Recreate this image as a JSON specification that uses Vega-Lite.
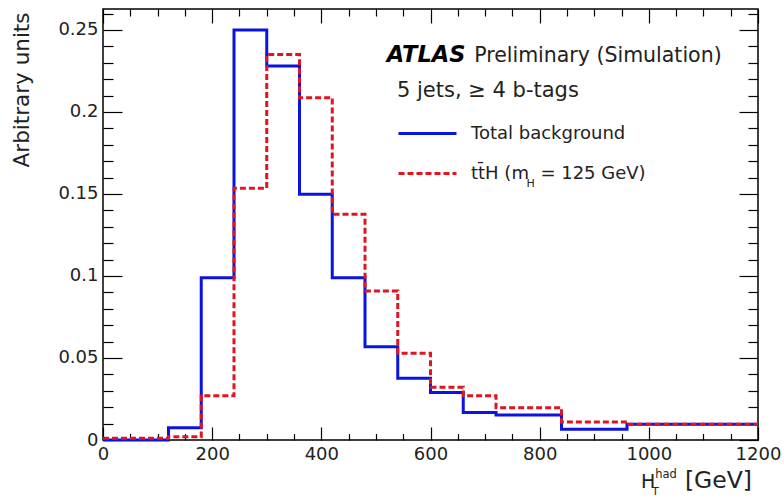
{
"$schema":"https://vega.github.io/schema/vega-lite/v6.json",
"width":655,"height":431,"autosize":"none",
"padding":{"left":103,"top":9,"right":26,"bottom":58},
"background":"white",
"config":{
 "font":"DejaVu Sans",
 "view":{"stroke":"black","strokeWidth":1.5},
 "axis":{"domain":false,"grid":false,"tickColor":"black","tickWidth":1.2,"labelFont":"DejaVu Sans","labelColor":"#222","labelFlush":false,"labelOverlap":false,"labelBound":false},
 "legend":{"orient":"none","legendX":294,"legendY":94,"padding":0,"rowPadding":-1,"title":null,"symbolType":"stroke","symbolSize":3364,"symbolStrokeWidth":3,"labelFontSize":18,"labelColor":"#222","labelOffset":13,"labelLimit":400,"labelFont":"DejaVu Sans"}
},
"datasets":{"hist":[
 {"s":"bkg","x":0,"v":0},
 {"s":"bkg","x":120,"v":0.0075},
 {"s":"bkg","x":180,"v":0.099},
 {"s":"bkg","x":240,"v":0.25},
 {"s":"bkg","x":300,"v":0.228},
 {"s":"bkg","x":360,"v":0.1498},
 {"s":"bkg","x":420,"v":0.099},
 {"s":"bkg","x":480,"v":0.0569},
 {"s":"bkg","x":540,"v":0.0376},
 {"s":"bkg","x":600,"v":0.029},
 {"s":"bkg","x":660,"v":0.0167},
 {"s":"bkg","x":720,"v":0.0152},
 {"s":"bkg","x":840,"v":0.0065},
 {"s":"bkg","x":960,"v":0.0096},
 {"s":"bkg","x":1200,"v":0.0096},
 {"s":"tth","x":0,"v":0.001},
 {"s":"tth","x":120,"v":0.002},
 {"s":"tth","x":180,"v":0.027},
 {"s":"tth","x":240,"v":0.1535},
 {"s":"tth","x":300,"v":0.235},
 {"s":"tth","x":360,"v":0.2087},
 {"s":"tth","x":420,"v":0.1376},
 {"s":"tth","x":480,"v":0.0909},
 {"s":"tth","x":540,"v":0.0529},
 {"s":"tth","x":600,"v":0.0321},
 {"s":"tth","x":660,"v":0.027},
 {"s":"tth","x":720,"v":0.0197},
 {"s":"tth","x":840,"v":0.011},
 {"s":"tth","x":960,"v":0.0096},
 {"s":"tth","x":1200,"v":0.0096}
],
"one":[{}]},
"resolve":{"axis":{"x":"independent","y":"independent"}},
"layer":[
 {"data":{"name":"hist"},
  "mark":{"type":"line","interpolate":"step-after","strokeWidth":3,"strokeJoin":"miter","strokeCap":"butt"},
  "encoding":{
   "x":{"field":"x","type":"quantitative","scale":{"domain":[0,1200],"nice":false,"zero":false},
        "axis":{"orient":"bottom","values":[0,50,100,150,200,250,300,350,400,450,500,550,600,650,700,750,800,850,900,950,1000,1050,1100,1150,1200],
                "format":"d",
                "tickSize":{"condition":{"test":"datum.value % 200 === 0","value":-13},"value":-6.5},
                "labelExpr":"datum.value % 200 === 0 ? datum.label : ''","labelFontSize":18,"labelPadding":18,"title":null}},
   "y":{"field":"v","type":"quantitative","scale":{"domain":[0,0.2628],"nice":false,"zero":false},
        "axis":{"orient":"left","values":[0,0.01,0.02,0.03,0.04,0.05,0.06,0.07,0.08,0.09,0.1,0.11,0.12,0.13,0.14,0.15,0.16,0.17,0.18,0.19,0.2,0.21,0.22,0.23,0.24,0.25,0.26],
                "format":"~g",
                "tickSize":{"condition":{"test":"abs(datum.value*20-round(datum.value*20))<0.001","value":-19},"value":-10},
                "labelExpr":"abs(datum.value*20-round(datum.value*20))<0.001 ? datum.label : ''","labelFontSize":18,"labelPadding":24,
                "title":"Arbitrary units","titleFontSize":21.5,"titleFontWeight":"normal","titleColor":"#222","titleX":-81,"titleY":3,"titleAngle":-90,"titleAlign":"right","titleBaseline":"middle"}},
   "color":{"field":"s","type":"nominal","scale":{"domain":["bkg","tth"],"range":["#0a14e0","#de1620"]},
            "legend":{"labelExpr":"datum.value === 'bkg' ? 'Total background' : 'tt\u0304H (m\u2007= 125 GeV)'"}},
   "strokeDash":{"field":"s","type":"nominal","scale":{"domain":["bkg","tth"],"range":[[1,0],[6,3]]},
            "legend":{"labelExpr":"datum.value === 'bkg' ? 'Total background' : 'tt\u0304H (m\u2007= 125 GeV)'"}}
  }},
 {"data":{"name":"hist"},
  "mark":{"type":"point","opacity":0},
  "encoding":{
   "x":{"field":"x","type":"quantitative","scale":{"domain":[0,1200],"nice":false,"zero":false},
        "axis":{"orient":"top","values":[0,50,100,150,200,250,300,350,400,450,500,550,600,650,700,750,800,850,900,950,1000,1050,1100,1150,1200],
                "tickSize":{"condition":{"test":"datum.value % 200 === 0","value":-14},"value":-7},"labels":false,"title":null}},
   "y":{"field":"v","type":"quantitative","scale":{"domain":[0,0.2628],"nice":false,"zero":false},
        "axis":{"orient":"right","values":[0,0.01,0.02,0.03,0.04,0.05,0.06,0.07,0.08,0.09,0.1,0.11,0.12,0.13,0.14,0.15,0.16,0.17,0.18,0.19,0.2,0.21,0.22,0.23,0.24,0.25,0.26],
                "tickSize":{"condition":{"test":"abs(datum.value*20-round(datum.value*20))<0.001","value":-19},"value":-10},"labels":false,"title":null}}
  }},
 {"data":{"name":"one"},
  "mark":{"type":"text","text":"ATLAS","fontSize":22.5,"fontWeight":"bold","fontStyle":"italic","align":"left","baseline":"alphabetic","color":"black"},
  "encoding":{"x":{"datum":520,"type":"quantitative","scale":{"domain":[0,1200],"nice":false,"zero":false},"axis":null},
              "y":{"datum":0.2305,"type":"quantitative","scale":{"domain":[0,0.2628],"nice":false,"zero":false},"axis":null}}},
 {"data":{"name":"one"},
  "mark":{"type":"text","text":"Preliminary (Simulation)","fontSize":20.5,"align":"left","baseline":"alphabetic","color":"#222"},
  "encoding":{"x":{"datum":680,"type":"quantitative","scale":{"domain":[0,1200],"nice":false,"zero":false},"axis":null},
              "y":{"datum":0.2305,"type":"quantitative","scale":{"domain":[0,0.2628],"nice":false,"zero":false},"axis":null}}},
 {"data":{"name":"one"},
  "mark":{"type":"text","text":"5 jets, ≥ 4 b-tags","fontSize":21,"align":"left","baseline":"alphabetic","color":"#222"},
  "encoding":{"x":{"datum":538.6,"type":"quantitative","scale":{"domain":[0,1200],"nice":false,"zero":false},"axis":null},
              "y":{"datum":0.20915,"type":"quantitative","scale":{"domain":[0,0.2628],"nice":false,"zero":false},"axis":null}}},
 {"data":{"name":"one"},
  "mark":{"type":"text","text":"H","fontSize":11,"align":"left","baseline":"alphabetic","color":"#222"},
  "encoding":{"x":{"datum":776,"type":"quantitative","scale":{"domain":[0,1200],"nice":false,"zero":false},"axis":null},
              "y":{"datum":0.1543,"type":"quantitative","scale":{"domain":[0,0.2628],"nice":false,"zero":false},"axis":null}}},
 {"data":{"name":"one"},
  "mark":{"type":"text","text":"H","fontSize":19,"align":"left","baseline":"alphabetic","color":"#222"},
  "encoding":{"x":{"datum":985.6,"type":"quantitative","scale":{"domain":[0,1200],"nice":false,"zero":false},"axis":null},
              "y":{"datum":-0.02927,"type":"quantitative","scale":{"domain":[0,0.2628],"nice":false,"zero":false},"axis":null}}},
 {"data":{"name":"one"},
  "mark":{"type":"text","text":"had","fontSize":11.5,"align":"left","baseline":"alphabetic","color":"#222"},
  "encoding":{"x":{"datum":1011.6,"type":"quantitative","scale":{"domain":[0,1200],"nice":false,"zero":false},"axis":null},
              "y":{"datum":-0.02317,"type":"quantitative","scale":{"domain":[0,0.2628],"nice":false,"zero":false},"axis":null}}},
 {"data":{"name":"one"},
  "mark":{"type":"text","text":"T","fontSize":11,"align":"left","baseline":"alphabetic","color":"#222"},
  "encoding":{"x":{"datum":1005.8,"type":"quantitative","scale":{"domain":[0,1200],"nice":false,"zero":false},"axis":null},
              "y":{"datum":-0.0335,"type":"quantitative","scale":{"domain":[0,0.2628],"nice":false,"zero":false},"axis":null}}},
 {"data":{"name":"one"},
  "mark":{"type":"text","text":"[GeV]","fontSize":23.5,"align":"right","baseline":"alphabetic","color":"#222"},
  "encoding":{"x":{"datum":1189,"type":"quantitative","scale":{"domain":[0,1200],"nice":false,"zero":false},"axis":null},
              "y":{"datum":-0.02927,"type":"quantitative","scale":{"domain":[0,0.2628],"nice":false,"zero":false},"axis":null}}}
]
}
